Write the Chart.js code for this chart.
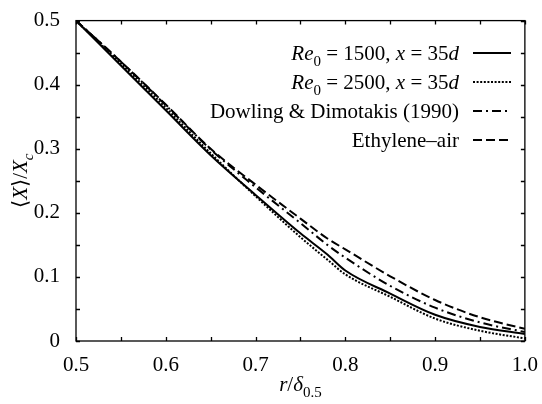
<!DOCTYPE html>
<html>
<head>
<meta charset="utf-8">
<script src="https://cdn.jsdelivr.net/npm/chart.js@4.4.0/dist/chart.umd.min.js"></script>
<style>
  html, body { margin: 0; padding: 0; background: #fff; }
</style>
</head>
<body>
<canvas id="profileChart" width="542" height="404"></canvas>
<script>
// radial position r/delta_0.5
const rValues = [0.50, 0.55, 0.60, 0.65, 0.70, 0.75, 0.78, 0.80, 0.85, 0.90, 0.95, 1.00];
// <X>/Xc for each case
const re1500 = [0.500, 0.430, 0.360, 0.290, 0.228, 0.168, 0.135, 0.110, 0.074, 0.041, 0.022, 0.011];
const re2500 = [0.500, 0.433, 0.364, 0.293, 0.226, 0.162, 0.127, 0.104, 0.069, 0.035, 0.016, 0.004];
const dowling = [0.500, 0.436, 0.368, 0.299, 0.240, 0.184, 0.150, 0.130, 0.086, 0.052, 0.029, 0.014];
const ethylene = [0.500, 0.436, 0.369, 0.300, 0.244, 0.191, 0.160, 0.143, 0.101, 0.064, 0.037, 0.019];

const xTicks = [0.5, 0.6, 0.7, 0.8, 0.9, 1.0];
const yTicks = [0, 0.1, 0.2, 0.3, 0.4, 0.5];

const SERIF = '"Liberation Serif", "Times New Roman", "DejaVu Serif", serif';

const toPoints = (ys) => rValues.map((r, i) => ({ x: r, y: ys[i] }));

const datasets = [
  { label: 'Re0 = 1500, x = 35d', data: toPoints(re1500), dash: [] },
  { label: 'Re0 = 2500, x = 35d', data: toPoints(re2500), dash: [2, 1.6] },
  { label: 'Dowling & Dimotakis (1990)', data: toPoints(dowling), dash: [9, 4, 2, 4] },
  { label: 'Ethylene–air', data: toPoints(ethylene), dash: [9, 4] }
].map(d => ({
  label: d.label,
  data: d.data,
  borderColor: '#000',
  borderWidth: 2,
  borderDash: d.dash,
  pointRadius: 0,
  fill: false,
  cubicInterpolationMode: 'monotone'
}));

// legend / axis title text pieces (italic + subscript)
const legendRich = [
  [{ t: 'Re', it: true }, { t: '0', sub: true }, { t: ' = 1500, ' }, { t: 'x', it: true }, { t: ' = 35' }, { t: 'd', it: true }],
  [{ t: 'Re', it: true }, { t: '0', sub: true }, { t: ' = 2500, ' }, { t: 'x', it: true }, { t: ' = 35' }, { t: 'd', it: true }],
  [{ t: 'Dowling & Dimotakis (1990)' }],
  [{ t: 'Ethylene–air' }]
];
const xTitle = [{ t: 'r', it: true }, { t: '/' }, { t: 'δ', it: true }, { t: '0.5', sub: true }];
const yTitle = [{ t: '⟨' }, { t: 'X', it: true }, { t: '⟩/' }, { t: 'X', it: true }, { t: 'c', it: true, sub: true }];

function partFont(p, size) {
  const s = p.sub ? Math.round(size * 0.72) : size;
  return (p.it ? 'italic ' : '') + s + 'px ' + SERIF;
}

function richWidth(ctx, parts, size) {
  let w = 0;
  parts.forEach(p => { ctx.font = partFont(p, size); w += ctx.measureText(p.t).width; });
  return w;
}

function drawRich(ctx, parts, x, y, size) {
  ctx.textBaseline = 'alphabetic';
  ctx.textAlign = 'left';
  let cx = x;
  parts.forEach(p => {
    ctx.font = partFont(p, size);
    ctx.fillText(p.t, cx, y + (p.sub ? size * 0.28 : 0));
    cx += ctx.measureText(p.t).width;
  });
}

const framePlugin = {
  id: 'frame',
  afterDraw(chart) {
    const ctx = chart.ctx;
    const a = chart.chartArea;
    const xs = chart.scales.x, ys = chart.scales.y;
    ctx.save();
    ctx.strokeStyle = '#000';
    ctx.fillStyle = '#000';
    ctx.lineWidth = 1.3;
    ctx.setLineDash([]);
    ctx.strokeRect(a.left, a.top, a.right - a.left, a.bottom - a.top);

    // inward ticks every 0.05 on all four sides
    const tl = 4;
    ctx.beginPath();
    for (let i = 0; i <= 10; i++) {
      const px = Math.round(xs.getPixelForValue(0.5 + i * 0.05)) + 0.5;
      ctx.moveTo(px, a.bottom); ctx.lineTo(px, a.bottom - tl);
      ctx.moveTo(px, a.top); ctx.lineTo(px, a.top + tl);
      const py = Math.round(ys.getPixelForValue(i * 0.05)) + 0.5;
      ctx.moveTo(a.left, py); ctx.lineTo(a.left + tl, py);
      ctx.moveTo(a.right, py); ctx.lineTo(a.right - tl, py);
    }
    ctx.stroke();

    // legend: right-aligned text with line sample on the right
    const fs = 21;
    const textRight = 459, lineL = 473, lineR = 511;
    const baselines = [60, 89, 118, 147];
    chart.data.datasets.forEach((ds, i) => {
      const w = richWidth(ctx, legendRich[i], fs);
      drawRich(ctx, legendRich[i], textRight - w, baselines[i], fs);
      ctx.beginPath();
      ctx.lineWidth = 2;
      ctx.setLineDash(ds.borderDash);
      ctx.moveTo(lineL, baselines[i] - 7);
      ctx.lineTo(lineR, baselines[i] - 7);
      ctx.stroke();
    });
    ctx.setLineDash([]);

    // axis titles
    const tw = richWidth(ctx, xTitle, 21);
    drawRich(ctx, xTitle, (a.left + a.right) / 2 - tw / 2, 391, 21);

    const yw = richWidth(ctx, yTitle, 21);
    ctx.translate(27, (a.top + a.bottom) / 2);
    ctx.rotate(-Math.PI / 2);
    drawRich(ctx, yTitle, -yw / 2, 0, 21);
    ctx.restore();
  }
};

const ctx = document.getElementById('profileChart').getContext('2d');
const profileChart = new Chart(ctx, {
  type: 'line',
  data: { datasets: datasets },
  options: {
    responsive: false,
    animation: false,
    devicePixelRatio: 1,
    layout: { padding: { top: 15, right: 13, left: 0, bottom: 0 } },
    plugins: {
      legend: { display: false },
      tooltip: { enabled: false }
    },
    scales: {
      x: {
        type: 'linear',
        min: 0.5,
        max: 1.0,
        afterBuildTicks: (s) => { s.ticks = xTicks.map(v => ({ value: v })); },
        afterFit: (s) => { s.height = 63; },
        ticks: {
          autoSkip: false,
          maxRotation: 0,
          padding: 4,
          color: '#000',
          font: { family: SERIF, size: 21 },
          callback: (v) => v.toFixed(1)
        },
        grid: { display: false },
        border: { display: false }
      },
      y: {
        type: 'linear',
        min: 0,
        max: 0.5,
        afterBuildTicks: (s) => { s.ticks = yTicks.map(v => ({ value: v })); },
        afterFit: (s) => { s.width = 76; },
        ticks: {
          padding: 8,
          color: '#000',
          font: { family: SERIF, size: 21 },
          callback: (v) => v === 0 ? '0' : v.toFixed(1)
        },
        grid: { display: false },
        border: { display: false }
      }
    }
  },
  plugins: [framePlugin]
});
</script>
</body>
</html>
